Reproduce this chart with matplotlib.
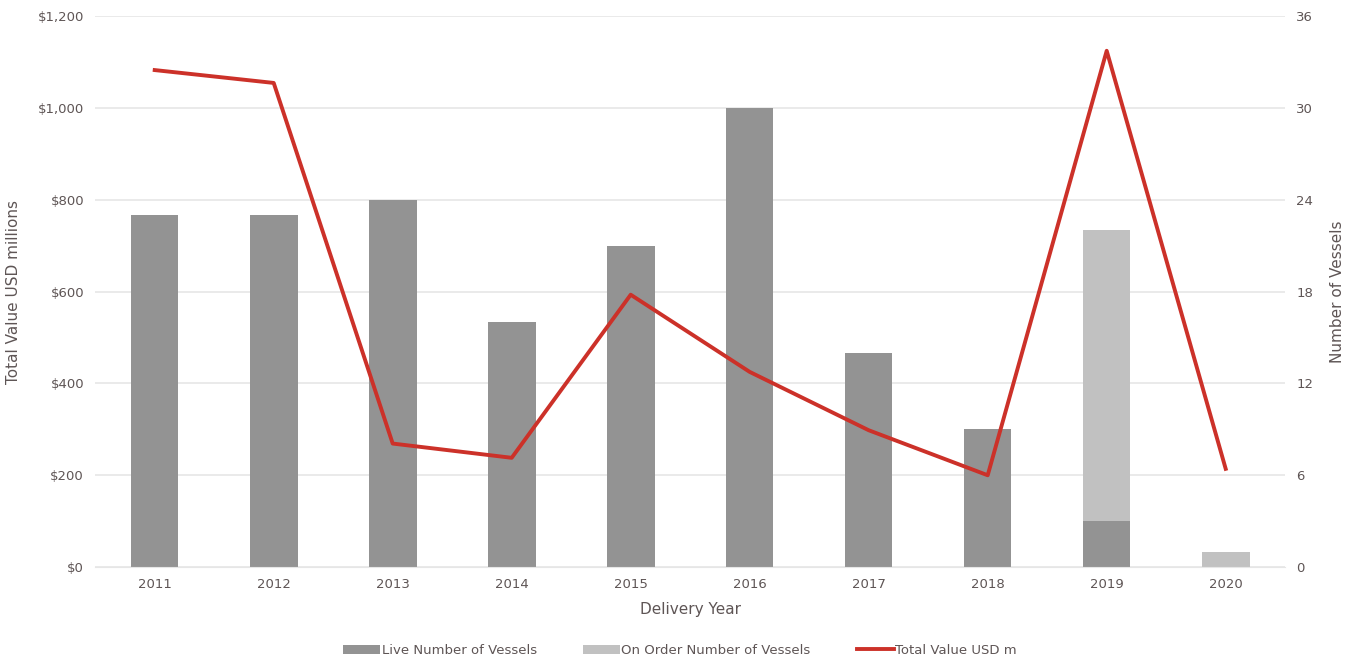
import matplotlib.pyplot as plt
import numpy as np

YEARS = ['2011', '2012', '2013', '2014', '2015', '2016', '2017', '2018', '2019', '2020']
LIVE_VESSELS = [23, 23, 24, 16, 21, 30, 14, 9, 3, 0]
ON_ORDER_VESSELS = [0, 0, 0, 0, 0, 0, 0, 0, 19, 1]
TOTAL_VALUE = [1082, 1054, 269, 238, 593, 425, 298, 200, 1124, 214]

LEFT_TICKS = [0, 200, 400, 600, 800, 1000, 1200]
RIGHT_TICKS = [0, 6, 12, 18, 24, 30, 36]

TEXT_COLOR = '#5e5555'
LIVE_COLOR = '#939393'
ORDER_COLOR = '#c1c1c1'
LINE_COLOR = '#cc3129'
GRID_COLOR = '#e6e6e6'

fig, ax = plt.subplots(figsize=(13.6, 6.61), dpi=100)
fig.subplots_adjust(left=0.07, right=0.945, top=0.976, bottom=0.142)
ax2 = ax.twinx()

x = np.arange(len(YEARS))
width = 0.4

# bars on the right axis (number of vessels)
b1 = ax2.bar(x, LIVE_VESSELS, width, color=LIVE_COLOR, label='Live Number of Vessels')
b2 = ax2.bar(x, ON_ORDER_VESSELS, width, bottom=LIVE_VESSELS, color=ORDER_COLOR,
             label='On Order Number of Vessels')
ax2.set_ylim(0, 36)
ax2.set_yticks(RIGHT_TICKS)
ax2.grid(axis='y', color=GRID_COLOR, linewidth=1.2)
ax2.set_axisbelow(True)
ax2.set_ylabel('Number of Vessels', color=TEXT_COLOR, fontsize=11, labelpad=12)

# line on the left axis (value)
line, = ax.plot(x, TOTAL_VALUE, color=LINE_COLOR, linewidth=2.8, label='Total Value USD m')
ax.set_ylim(0, 1200)
ax.set_yticks(LEFT_TICKS)
ax.set_yticklabels(['${:,}'.format(v) for v in LEFT_TICKS])
ax.set_xlim(-0.5, len(YEARS) - 0.5)
ax.set_xticks(x)
ax.set_xticklabels(YEARS)
ax.set_ylabel('Total Value USD millions', color=TEXT_COLOR, fontsize=11, labelpad=12)
ax.set_xlabel('Delivery Year', color=TEXT_COLOR, fontsize=11, labelpad=8)

ax.set_zorder(ax2.get_zorder() + 1)
ax.patch.set_visible(False)

for a in (ax, ax2):
	for s in a.spines.values():
		s.set_visible(False)
	a.tick_params(length=0, colors=TEXT_COLOR, labelsize=9.5, pad=8)
ax2.spines['bottom'].set_visible(True)
ax2.spines['bottom'].set_color(GRID_COLOR)

fig.legend(handles=[b1, b2, line], loc='lower center', bbox_to_anchor=(0.5, -0.012),
           ncol=3, frameon=False, fontsize=9.5, handlelength=2.8, handletextpad=0.1,
           columnspacing=3.5, labelcolor=TEXT_COLOR)

plt.savefig('out.png')
